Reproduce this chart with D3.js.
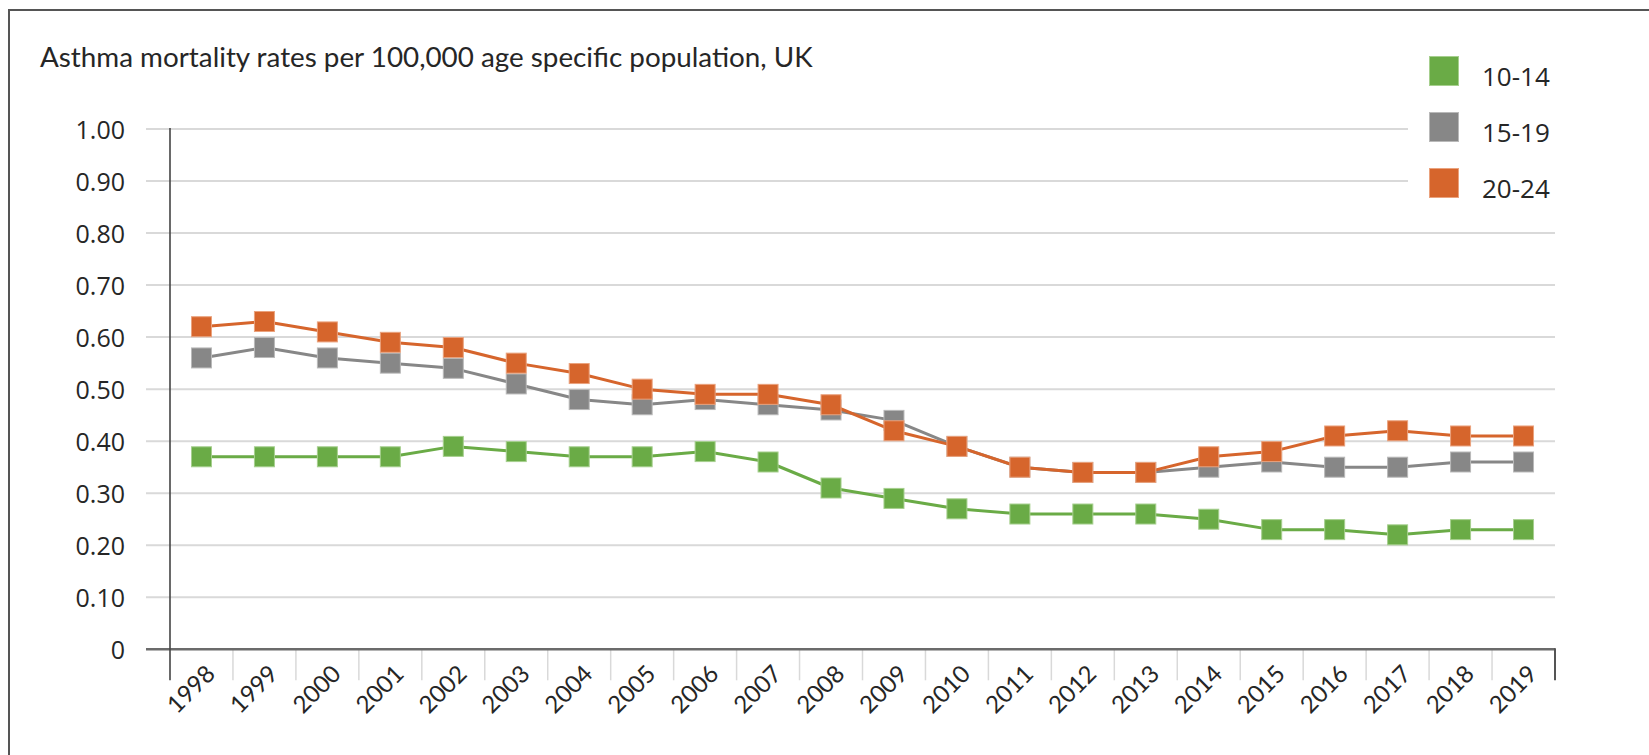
<!DOCTYPE html>
<html>
<head>
<meta charset="utf-8">
<script src="https://cdn.jsdelivr.net/npm/d3@7"></script>
<style>
  html, body { margin: 0; padding: 0; background: #fff; }
  svg { display: block; }
</style>
</head>
<body>
<svg id="chart" width="1649" height="755"></svg>
<script>
// Asthma mortality rates per 100,000 age-specific population, UK
const years = ["1998","1999","2000","2001","2002","2003","2004","2005","2006","2007","2008",
               "2009","2010","2011","2012","2013","2014","2015","2016","2017","2018","2019"];
const ageGroups = ["10-14", "15-19", "20-24"];
const rate10to14 = [0.37,0.37,0.37,0.37,0.39,0.38,0.37,0.37,0.38,0.36,0.31,
                    0.29,0.27,0.26,0.26,0.26,0.25,0.23,0.23,0.22,0.23,0.23];
const rate15to19 = [0.56,0.58,0.56,0.55,0.54,0.51,0.48,0.47,0.48,0.47,0.46,
                    0.44,0.39,0.35,0.34,0.34,0.35,0.36,0.35,0.35,0.36,0.36];
const rate20to24 = [0.62,0.63,0.61,0.59,0.58,0.55,0.53,0.50,0.49,0.49,0.47,
                    0.42,0.39,0.35,0.34,0.34,0.37,0.38,0.41,0.42,0.41,0.41];
const yTicks = [0,0.1,0.2,0.3,0.4,0.5,0.6,0.7,0.8,0.9,1.0];

const seriesColors = ["#6aab46", "#878787", "#d6652c"];
const seriesEdges  = ["#a6cf8e", "#b9b9b9", "#eaa27d"];
const series = [rate10to14, rate15to19, rate20to24].map((values, i) => ({
  name: ageGroups[i], values, color: seriesColors[i], edge: seriesEdges[i]
}));

const svg = d3.select("#chart");
const textColor = "#262626";

// outer frame
svg.append("rect")
  .attr("x", 9).attr("y", 10).attr("width", 1700).attr("height", 800)
  .attr("fill", "none").attr("stroke", "#555").attr("stroke-width", 2);

// title
svg.append("text")
  .attr("x", 40).attr("y", 67)
  .style("font-family", "Lato, sans-serif").style("font-size", "27.8px")
  .attr("fill", textColor)
  .text("Asthma mortality rates per 100,000 age specific population, UK");

const plotLeft = 170, plotRight = 1555, plotTop = 129, plotBottom = 649.3;
const gridLeft = 146;

const x = d3.scaleBand().domain(years).range([plotLeft, plotRight]);
const y = d3.scaleLinear().domain([0, 1]).range([plotBottom, plotTop]);
function cx(d) { return x(d) + x.bandwidth() / 2; }

// horizontal gridlines
svg.append("g").selectAll("line")
  .data(yTicks.filter(d => d > 0))
  .join("line")
  .attr("x1", gridLeft).attr("x2", plotRight)
  .attr("y1", d => y(d)).attr("y2", d => y(d))
  .attr("stroke", "#d9d9d9").attr("stroke-width", 2);

// y tick labels
const yAxis = svg.append("g")
  .attr("transform", `translate(${gridLeft},0)`)
  .call(d3.axisLeft(y).tickValues(yTicks).tickSize(0).tickPadding(21)
    .tickFormat(d => d === 0 ? "0" : d3.format(".2f")(d)));
yAxis.select(".domain").remove();
yAxis.selectAll("text")
  .style("font-family", "'Open Sans', sans-serif").style("font-size", "25px")
  .attr("fill", textColor).attr("dy", "0.36em");

// category tick marks between years
const boundaries = years.slice(1).map(d => x(d));
svg.append("g").selectAll("line")
  .data(boundaries)
  .join("line")
  .attr("x1", d => d).attr("x2", d => d)
  .attr("y1", plotBottom).attr("y2", plotBottom + 31)
  .attr("stroke", "#d9d9d9").attr("stroke-width", 1.5);

// x axis labels, rotated 45 degrees, anchored at their end
const xLabels = svg.append("g")
  .attr("font-family", "Lato, sans-serif")
  .attr("font-size", 24)
  .attr("fill", textColor);
xLabels.selectAll("text")
  .data(years)
  .join("text")
  .attr("text-anchor", "end")
  .attr("transform", d => `translate(${cx(d) + 15},${plotBottom + 26}) rotate(-45)`)
  .text(d => d);

// axis lines
svg.append("line")
  .attr("x1", gridLeft).attr("x2", plotRight)
  .attr("y1", plotBottom).attr("y2", plotBottom)
  .attr("stroke", "#6b6b6b").attr("stroke-width", 2.5);
svg.append("line")
  .attr("x1", plotLeft).attr("x2", plotLeft)
  .attr("y1", plotTop - 1).attr("y2", plotBottom + 31)
  .attr("stroke", "#444").attr("stroke-width", 1.6);
svg.append("line")
  .attr("x1", plotRight).attr("x2", plotRight)
  .attr("y1", plotBottom - 1).attr("y2", plotBottom + 31)
  .attr("stroke", "#555").attr("stroke-width", 2);

// series lines and square markers
const line = d3.line().x((v, i) => cx(years[i])).y(v => y(v));
const markerSize = 20;

series.forEach(s => {
  const g = svg.append("g");
  g.append("path")
    .datum(s.values)
    .attr("d", line)
    .attr("fill", "none")
    .attr("stroke", s.color).attr("stroke-width", 3)
    .attr("stroke-linejoin", "round");
  g.selectAll("rect")
    .data(s.values)
    .join("rect")
    .attr("x", (v, i) => cx(years[i]) - markerSize / 2)
    .attr("y", v => y(v) - markerSize / 2)
    .attr("width", markerSize).attr("height", markerSize)
    .attr("fill", s.color)
    .attr("stroke", s.edge).attr("stroke-width", 1);
});

// legend
const legend = svg.append("g");
legend.append("rect")
  .attr("x", 1408).attr("y", 40).attr("width", 240).attr("height", 175)
  .attr("fill", "#fff");
series.forEach((s, i) => {
  const top = 56 + i * 56;
  legend.append("rect")
    .attr("x", 1429.5).attr("y", top + 0.5)
    .attr("width", 29).attr("height", 29)
    .attr("fill", s.color).attr("stroke", s.edge).attr("stroke-width", 1);
  legend.append("text")
    .attr("x", 1482).attr("y", top + 30)
    .style("font-family", "'Open Sans', sans-serif").style("font-size", "26px")
    .attr("fill", textColor)
    .text(s.name);
});
</script>
</body>
</html>
